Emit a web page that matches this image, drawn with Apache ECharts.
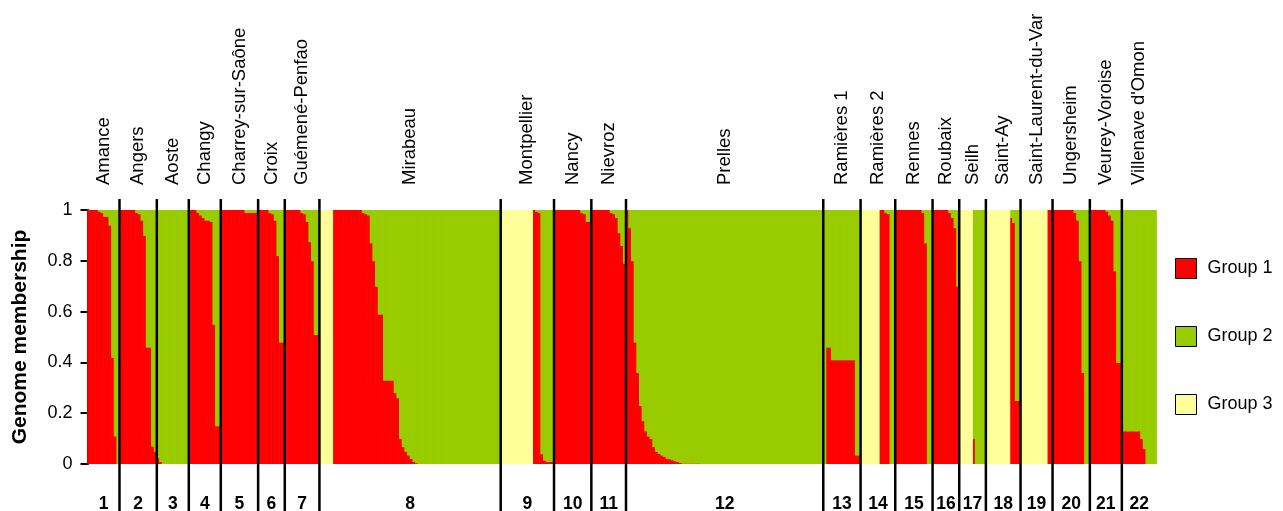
<!DOCTYPE html>
<html><head><meta charset="utf-8">
<script src="https://cdn.jsdelivr.net/npm/echarts@6/dist/echarts.min.js"></script>
<style>html,body{margin:0;padding:0;background:#fff}#chart{width:1283px;height:511px}</style>
</head><body><div id="chart"></div>
<script>
const populations = ['Amance','Angers','Aoste','Changy','Charrey-sur-Saône','Croix','Guémené-Penfao','Mirabeau','Montpellier','Nancy','Nievroz','Prelles','Ramières 1','Ramières 2','Rennes','Roubaix','Seilh','Saint-Ay','Saint-Laurent-du-Var','Ungersheim','Veurey-Voroise',"Villenave d'Omon"];
const populationCodes = ['1','2','3','4','5','6','7','8','9','10','11','12','13','14','15','16','17','18','19','20','21','22'];
const populationSizes = [12,14,12,12,14,10,13,68,20,14,13,74,14,13,14,10,10,13,12,14,12,13];
const groupNames = ['Group 1','Group 2','Group 3'];
const yTicks = [0,0.2,0.4,0.6,0.8,1];

const groupOne = [
 1,1,1,1,0.995,0.99,0.975,0.975,0.94,0.42,0.11,0,
 1,1,1,1,1,1,0.99,0.985,0.96,0.9,0.46,0.46,0.07,0.05,
 0.025,0.01,0,0,0,0,0,0,0,0,0,0,
 1,1,1,0.99,0.98,0.97,0.96,0.96,0.955,0.55,0.15,0.15,
 1,1,1,1,1,1,1,1,1,0.99,0.99,0.99,0.99,0.99,
 1,1,1,1,0.99,0.985,0.96,0.82,0.48,0.48,
 1,1,1,1,1,1,0.99,0.985,0.955,0.875,0.8,0.51,0.51,
 0,0,0,0,0,1,1,1,1,1,1,1,1,1,1,1,0.99,0.985,0.98,0.87,0.8,0.7,0.59,0.59,0.33,0.33,0.33,0.33,0.28,0.26,0.1,0.068,0.05,0.035,0.022,0.01,0.004,0.002,
 0,0,0,0,0,0,0,0,0,0,0,0,0,0,0,0,0,0,0,0,0,0,0,0,0,0,0,0,0,0,
 0,0,0,0,0,0,0,0,0,0,0,0,1,0.995,0.99,0.04,0.015,0.01,0.01,0.01,
 1,1,1,1,1,1,1,1,1,1,0.99,0.985,0.955,0.955,
 1,1,1,1,1,1,1,0.99,0.985,0.97,0.91,0.86,0.79,
 1,0.93,0.8,0.48,0.36,0.23,0.17,0.13,0.11,0.1,0.068,0.05,0.042,0.035,0.029,0.022,0.02,0.016,0.012,0.009,0.006,0.003,0.003,0.003,0.003,0.003,0.003,0.003,
 0,0,0,0,0,0,0,0,0,0,0,0,0,0,0,0,0,0,0,0,0,0,0,0,0,0,0,0,0,0,0,0,0,0,0,0,0,0,0,0,0,0,0,0,0,0,
 0,0.46,0.46,0.41,0.41,0.41,0.41,0.41,0.41,0.41,0.41,0.41,0.035,0.035,
 0,0,0,0,0,0,0,1,1,0.99,0.985,0,0,
 1,1,1,1,1,1,1,1,1,1,0.99,0.87,0,0,
 1,1,1,1,1,1,0.99,0.97,0.93,0.7,
 0,0,0,0,0,0.1,0,0,0,0,
 0,0,0,0,0,0,0,0,0,0.97,0.95,0.25,0.25,
 0,0,0,0,0,0,0,0,0,0,1,1,
 1,1,1,1,1,1,1,1,0.99,0.96,0.8,0.36,0,0,
 1,1,1,1,1,1,0.995,0.98,0.96,0.76,0.4,0.4,
 0.13,0.13,0.13,0.13,0.13,0.13,0.13,0.1,0.06,0,0,0,0
];
const groupTwo = [
 0,0,0,0,0.005,0.01,0.025,0.025,0.06,0.58,0.89,1,
 0,0,0,0,0,0,0.01,0.015,0.04,0.1,0.54,0.54,0.93,0.95,
 0.975,0.99,1,1,1,1,1,1,1,1,1,1,
 0,0,0,0.01,0.02,0.03,0.04,0.04,0.045,0.45,0.85,0.85,
 0,0,0,0,0,0,0,0,0,0.01,0.01,0.01,0.01,0.01,
 0,0,0,0,0.01,0.015,0.04,0.18,0.52,0.52,
 0,0,0,0,0,0,0.01,0.015,0.045,0.125,0.2,0.49,0.49,
 0,0,0,0,0,0,0,0,0,0,0,0,0,0,0,0,0.01,0.015,0.02,0.13,0.2,0.3,0.41,0.41,0.67,0.67,0.67,0.67,0.72,0.74,0.9,0.932,0.95,0.965,0.978,0.99,0.996,0.998,
 1,1,1,1,1,1,1,1,1,1,1,1,1,1,1,1,1,1,1,1,1,1,1,1,1,1,1,1,1,1,
 0,0,0,0,0,0,0,0,0,0,0,0,0,0.005,0.01,0.96,0.985,0.99,0.99,0.99,
 0,0,0,0,0,0,0,0,0,0,0.01,0.015,0.045,0.045,
 0,0,0,0,0,0,0,0.01,0.015,0.03,0.09,0.14,0.21,
 0,0.07,0.2,0.52,0.64,0.77,0.83,0.87,0.89,0.9,0.932,0.95,0.958,0.965,0.971,0.978,0.98,0.984,0.988,0.991,0.994,0.997,0.997,0.997,0.997,0.997,0.997,0.997,
 1,1,1,1,1,1,1,1,1,1,1,1,1,1,1,1,1,1,1,1,1,1,1,1,1,1,1,1,1,1,1,1,1,1,1,1,1,1,1,1,1,1,1,1,1,1,
 1,0.54,0.54,0.59,0.59,0.59,0.59,0.59,0.59,0.59,0.59,0.59,0.965,0.965,
 0,0,0,0,0,0,0,0,0,0.01,0.015,1,1,
 0,0,0,0,0,0,0,0,0,0,0.01,0.13,1,1,
 0,0,0,0,0,0,0.01,0.03,0.07,0.3,
 0,0,0,0,0,0.9,1,1,1,1,
 0,0,0,0,0,0,0,0,0,0.03,0.05,0.75,0.75,
 0,0,0,0,0,0,0,0,0,0,0,0,
 0,0,0,0,0,0,0,0,0.01,0.04,0.2,0.64,1,1,
 0,0,0,0,0,0,0.005,0.02,0.04,0.24,0.6,0.6,
 0.87,0.87,0.87,0.87,0.87,0.87,0.87,0.9,0.94,1,1,1,1
];
const groupThree = [
 0,0,0,0,0,0,0,0,0,0,0,0,
 0,0,0,0,0,0,0,0,0,0,0,0,0,0,
 0,0,0,0,0,0,0,0,0,0,0,0,
 0,0,0,0,0,0,0,0,0,0,0,0,
 0,0,0,0,0,0,0,0,0,0,0,0,0,0,
 0,0,0,0,0,0,0,0,0,0,
 0,0,0,0,0,0,0,0,0,0,0,0,0,
 1,1,1,1,1,0,0,0,0,0,0,0,0,0,0,0,0,0,0,0,0,0,0,0,0,0,0,0,0,0,0,0,0,0,0,0,0,0,
 0,0,0,0,0,0,0,0,0,0,0,0,0,0,0,0,0,0,0,0,0,0,0,0,0,0,0,0,0,0,
 1,1,1,1,1,1,1,1,1,1,1,1,0,0,0,0,0,0,0,0,
 0,0,0,0,0,0,0,0,0,0,0,0,0,0,
 0,0,0,0,0,0,0,0,0,0,0,0,0,
 0,0,0,0,0,0,0,0,0,0,0,0,0,0,0,0,0,0,0,0,0,0,0,0,0,0,0,0,
 0,0,0,0,0,0,0,0,0,0,0,0,0,0,0,0,0,0,0,0,0,0,0,0,0,0,0,0,0,0,0,0,0,0,0,0,0,0,0,0,0,0,0,0,0,0,
 0,0,0,0,0,0,0,0,0,0,0,0,0,0,
 1,1,1,1,1,1,1,0,0,0,0,0,0,
 0,0,0,0,0,0,0,0,0,0,0,0,0,0,
 0,0,0,0,0,0,0,0,0,0,
 1,1,1,1,1,0,0,0,0,0,
 1,1,1,1,1,1,1,1,1,0,0,0,0,
 1,1,1,1,1,1,1,1,1,1,0,0,
 0,0,0,0,0,0,0,0,0,0,0,0,0,0,
 0,0,0,0,0,0,0,0,0,0,0,0,
 0,0,0,0,0,0,0,0,0,0,0,0,0
];

const groupColors = ['#FF0000', '#99CC00', '#FFFF99'];
const FONT = '"Liberation Sans", Arial, sans-serif';

const N = groupOne.length;
const starts = [];
let acc = 0;
populationSizes.forEach(s => { starts.push(acc); acc += s; });
const boundaries = starts.slice(1);

const groupArrays = [groupOne, groupTwo, groupThree];
function stackedData(k) {
  return groupArrays[k].map((v, i) => {
    let lo = 0;
    for (let j = 0; j < k; j++) lo += groupArrays[j][i];
    return [i, lo, lo + v];
  });
}

function barRender(params, api) {
  const i = api.value(0), lo = api.value(1), hi = api.value(2);
  if (hi - lo <= 0.0005) return null;
  const p0 = api.coord([i, hi]);
  const p1 = api.coord([i + 1, lo]);
  const extraBottom = lo > 0 ? 0.4 : 0;
  return {
    type: 'rect',
    shape: { x: p0[0] - 0.35, y: p0[1], width: p1[0] - p0[0] + 0.7, height: p1[1] - p0[1] + extraBottom },
    style: { fill: api.visual('color') }
  };
}

const series = groupNames.map((name, k) => ({
  name: name,
  type: 'custom',
  renderItem: barRender,
  itemStyle: { color: groupColors[k] },
  encode: { x: 0, y: [1, 2] },
  data: stackedData(k),
  silent: true
}));

series.push({
  type: 'custom',
  silent: true,
  z: 5,
  data: boundaries.map(b => [b]),
  encode: { x: 0 },
  renderItem: function (params, api) {
    const b = api.value(0);
    const top = api.coord([b, 1]);
    const bot = api.coord([b, 0]);
    return {
      type: 'line',
      shape: { x1: top[0], y1: top[1] - 11, x2: top[0], y2: bot[1] + 48 },
      style: { stroke: '#000', lineWidth: 2.5 }
    };
  }
});

series.push({
  type: 'custom',
  silent: true,
  z: 6,
  data: populations.map((p, k) => [starts[k], starts[k] + populationSizes[k], k]),
  encode: { x: [0, 1] },
  renderItem: function (params, api) {
    const s = api.value(0), e = api.value(1), k = api.value(2);
    const top = api.coord([(s + e) / 2, 1]);
    const bot = api.coord([(s + e) / 2, 0]);
    return {
      type: 'group',
      children: [
        { type: 'text', x: top[0], y: top[1] - 25, rotation: Math.PI / 2,
          style: { text: populations[k], fill: '#000', font: '18.5px ' + FONT, align: 'left', verticalAlign: 'middle' } },
        { type: 'text', x: bot[0], y: bot[1] + 40,
          style: { text: populationCodes[k], fill: '#000', font: 'bold 17.5px ' + FONT, align: 'center', verticalAlign: 'middle' } }
      ]
    };
  }
});

const chart = echarts.init(document.getElementById('chart'), null, { renderer: 'canvas' });
chart.setOption({
  animation: false,
  backgroundColor: '#fff',
  grid: { left: 87.5, right: 1283 - 1156.5, top: 210, bottom: 511 - 464, outerBoundsMode: 'none', containLabel: false },
  xAxis: { type: 'value', min: 0, max: N, show: false },
  yAxis: {
    type: 'value', min: yTicks[0], max: yTicks[yTicks.length - 1], interval: 0.2,
    axisLine: { show: true, lineStyle: { color: '#000', width: 2 } },
    axisTick: { show: true, length: 7, lineStyle: { color: '#000', width: 2 } },
    axisLabel: { fontSize: 18, color: '#000', margin: 15, fontFamily: FONT },
    splitLine: { show: false },
    name: 'Genome membership', nameLocation: 'middle', nameGap: 57, nameRotate: 90,
    nameTextStyle: { fontSize: 21, fontWeight: 'bold', color: '#000', fontFamily: FONT }
  },
  legend: {
    data: groupNames, orient: 'vertical', left: 1175, top: 258, padding: 0,
    itemWidth: 21, itemHeight: 20, itemGap: 47, icon: 'rect', selectedMode: false,
    itemStyle: { borderColor: '#000', borderWidth: 1 },
    textStyle: { fontSize: 18, color: '#000', fontFamily: FONT, padding: [0, 0, 0, 6] }
  },
  series: series
});
</script></body></html>
